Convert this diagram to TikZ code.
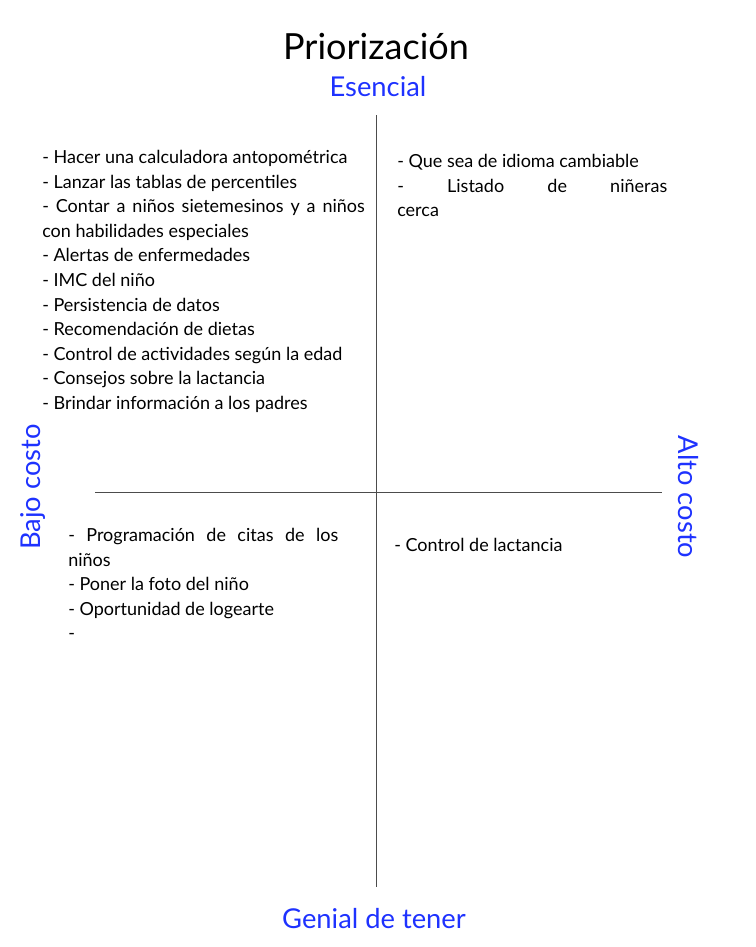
\documentclass[tikz,border=0pt]{standalone}
\usepackage{fontspec}
\setmainfont{Lato}
\usetikzlibrary{positioning}
\definecolor{axisblue}{RGB}{30,50,255}
\tikzset{
    px/.style={x=0.75pt, y=-0.75pt},
    titulo/.style={font=\fontsize{27}{31}\selectfont},
    ejelabel/.style={text=axisblue, font=\fontsize{20.5}{24}\selectfont},
    % listas de cada cuadrante: justificadas, una linea por punto
    items/.style={anchor=north west, inner sep=0pt, align=justify, font=\fontsize{13.5}{18.45}\selectfont, execute at begin node=\strut},
    ejeline/.style={draw=black!70, line width=0.75pt},
}

\begin{document}
\begin{tikzpicture}[px]
    \useasboundingbox (0,0) rectangle (756,947);

    \node[titulo] (prior) at (376,47) {Priorización};
    \node[ejelabel] (esencial) at (378,87) {Esencial};
    \node[ejelabel] (genial) at (374,919) {Genial de tener};
    \node[ejelabel, rotate=90] (bajo) at (33,487) {Bajo costo};
    \node[ejelabel, rotate=-90] (alto) at (688,497) {Alto costo};

    \coordinate (arriba) at (376,115);
    \coordinate (abajo) at (376,887);
    \coordinate (izq) at (95,492);
    \coordinate (der) at (662,492);
    \draw[ejeline] (arriba) -- (abajo);
    \draw[ejeline] (izq) -- (der);

    \node[items, text width=242pt] (esbajo) at (42,146) {- Hacer una calculadora antopométrica\\
        - Lanzar las tablas de percentiles\\
        - Contar a niños sietemesinos y a niños\linebreak con habilidades especiales\\
        - Alertas de enfermedades\\
        - IMC del niño\\
        - Persistencia de datos\\
        - Recomendación de dietas\\
        - Control de actividades según la edad\\
        - Consejos sobre la lactancia\\
        - Brindar información a los padres};

    \node[items, text width=202.5pt] (esalto) at (397,150) {- Que sea de idioma cambiable\\
        - Listado de niñeras\linebreak cerca};

    \node[items, text width=202.5pt] (gebajo) at (68,524) {- Programación de citas de los\linebreak niños\\
        - Poner la foto del niño\\
        - Oportunidad de logearte\\
        -};

    \node[items, text width=202.5pt] (gealto) at (394,534) {- Control de lactancia};
\end{tikzpicture}
\end{document}
